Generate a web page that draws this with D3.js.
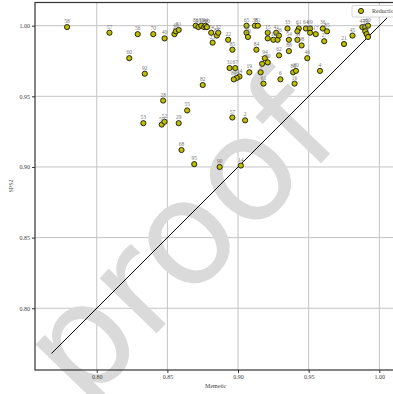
<!DOCTYPE html>
<html>
<head>
<meta charset="utf-8">
<script src="https://cdn.jsdelivr.net/npm/d3@7"></script>
<style>
  html, body { margin: 0; padding: 0; background: #fff; overflow: hidden; }
  svg { display: block; }
</style>
</head>
<body>
<script>
// Per-instance scores: Memetic (x) vs SPS2 (y)
const memetic = [
  0.779, 0.809, 0.829, 0.840, 0.848, 0.855, 0.856, 0.858,
  0.870, 0.872, 0.874, 0.876, 0.877, 0.878,
  0.881, 0.885, 0.886, 0.882, 0.893, 0.896,
  0.906, 0.906, 0.907, 0.912, 0.914, 0.913,
  0.921, 0.921, 0.925, 0.927, 0.928, 0.929, 0.929,
  0.935, 0.936, 0.936, 0.943, 0.942, 0.942, 0.945,
  0.948, 0.951, 0.951, 0.955, 0.960, 0.963, 0.961,
  0.981, 0.975, 0.988, 0.990, 0.992, 0.990, 0.991, 0.992,
  0.823, 0.834, 0.919, 0.921, 0.917, 0.949,
  0.894, 0.898, 0.901, 0.899, 0.897, 0.908, 0.916, 0.918, 0.930,
  0.939, 0.941, 0.940, 0.958, 0.875,
  0.847, 0.864, 0.833, 0.846, 0.848, 0.858, 0.896, 0.905,
  0.860, 0.869, 0.887, 0.902
];
const sps2 = [
  0.999, 0.995, 0.994, 0.994, 0.991, 0.994, 0.996, 0.997,
  1.000, 0.999, 1.000, 0.999, 1.000, 0.999,
  0.995, 0.993, 0.995, 0.988, 0.990, 0.983,
  1.000, 0.995, 0.992, 1.000, 1.000, 0.983,
  0.995, 0.991, 0.990, 0.995, 0.990, 0.993, 0.979,
  0.998, 0.990, 0.982, 0.998, 0.996, 0.990, 0.986,
  0.998, 0.998, 0.995, 0.994, 0.998, 0.996, 0.989,
  0.993, 0.987, 0.999, 0.999, 1.000, 0.996, 0.994, 0.992,
  0.977, 0.966, 0.977, 0.974, 0.973, 0.977,
  0.970, 0.970, 0.964, 0.963, 0.962, 0.967, 0.967, 0.959, 0.962,
  0.967, 0.968, 0.959, 0.968, 0.958,
  0.947, 0.940, 0.931, 0.930, 0.932, 0.931, 0.935, 0.933,
  0.912, 0.902, 0.900, 0.901
];
const ids = [
  58, 57, 56, 70, 40, 4, 48, 51,
  86, 93, 35, 91, 44, 90,
  74, 83, 32, 23, 22, 85,
  65, 10, 20, 38, 81, 84,
  15, 77, 11, 41, 8, 26, 62,
  33, 54, 88, 61, 3, 39, 98,
  64, 69, 89, 17, 36, 85, 27,
  45, 21, 47, 49, 60, 42, 9, 1,
  60, 92, 94, 30, 7, 46,
  31, 67, 14, 24, 89, 19, 5, 61, 6,
  86, 80, 16, 4, 82,
  28, 55, 53, 59, 52, 29, 57, 2,
  68, 95, 90, 14
];
const xTicks = [0.80, 0.85, 0.90, 0.95, 1.00];
const yTicks = [0.80, 0.85, 0.90, 0.95, 1.00];
const diagonal = [0.768, 1.0055];
const seriesName = "Reduction";
const xTitle = "Memetic";
const yTitle = "SPS2";

const W = 393, H = 394;
const svg = d3.select("body").append("svg").attr("width", W).attr("height", H);

const m = { left: 35, right: 402.5, top: 2.5, bottom: 370 };
const x = d3.scaleLinear().domain([0.7563, 1.0164]).range([m.left, m.right]);
const y = d3.scaleLinear().domain([0.7563, 1.0164]).range([m.bottom, m.top]);

const serif = "'Liberation Serif', 'DejaVu Serif', serif";

svg.append("defs").append("clipPath").attr("id", "plot")
  .append("rect").attr("x", m.left).attr("y", m.top)
  .attr("width", m.right - m.left).attr("height", m.bottom - m.top);

// grid
const grid = svg.append("g");
grid.selectAll(".gx").data(xTicks).join("line")
  .attr("x1", d => x(d)).attr("x2", d => x(d))
  .attr("y1", m.top).attr("y2", m.bottom)
  .attr("stroke", "#c4c4c4").attr("stroke-width", 1);
grid.selectAll(".gy").data(yTicks).join("line")
  .attr("y1", d => y(d)).attr("y2", d => y(d))
  .attr("x1", m.left).attr("x2", m.right)
  .attr("stroke", "#c4c4c4").attr("stroke-width", 1);

// watermark, behind the axes and marks
svg.append("text")
  .attr("transform", "translate(186,246) rotate(-46)")
  .attr("text-anchor", "middle").attr("dominant-baseline", "middle")
  .attr("font-family", "'DejaVu Sans', sans-serif")
  .attr("font-size", 145).attr("fill", "#dadada")
  .text("proof");

// axes
const xAxis = svg.append("g").attr("transform", `translate(0,${m.bottom})`)
  .call(d3.axisBottom(x).tickValues(xTicks).tickFormat(d3.format(".2f")).tickSize(3).tickPadding(2));
const yAxis = svg.append("g").attr("transform", `translate(${m.left},0)`)
  .call(d3.axisLeft(y).tickValues(yTicks).tickFormat(d3.format(".2f")).tickSize(3).tickPadding(2));
[xAxis, yAxis].forEach(a => {
  a.select(".domain").remove();
  a.selectAll(".tick line").attr("stroke", "#333").attr("stroke-width", 1);
  a.selectAll(".tick text").attr("font-family", serif).attr("font-size", 6).attr("fill", "#444");
});

// spines
svg.append("rect").attr("x", m.left).attr("y", m.top)
  .attr("width", m.right - m.left).attr("height", m.bottom - m.top)
  .attr("fill", "none").attr("stroke", "#333").attr("stroke-width", 1.2);

const plot = svg.append("g").attr("clip-path", "url(#plot)");

// y = x reference
plot.append("line")
  .attr("x1", x(diagonal[0])).attr("y1", y(diagonal[0]))
  .attr("x2", x(diagonal[1])).attr("y2", y(diagonal[1]))
  .attr("stroke", "#000").attr("stroke-width", 1);

const pts = memetic.map((v, i) => ({ mx: v, sy: sps2[i], id: ids[i] }));

plot.selectAll("circle.pt").data(pts).join("circle")
  .attr("class", "pt")
  .attr("cx", d => x(d.mx)).attr("cy", d => y(d.sy)).attr("r", 2.6)
  .attr("fill", "#bfbf00").attr("stroke", "#000").attr("stroke-width", 0.8);

plot.selectAll("text.lbl").data(pts).join("text")
  .attr("class", "lbl")
  .attr("x", d => x(d.mx)).attr("y", d => y(d.sy) - 4)
  .attr("text-anchor", "middle")
  .attr("font-family", serif).attr("font-size", 5.5).attr("fill", "#777")
  .text(d => d.id);

// axis titles
svg.append("text").attr("x", (m.left + m.right) / 2 - 3).attr("y", 388)
  .attr("text-anchor", "middle").attr("font-family", serif).attr("font-size", 6).attr("fill", "#444")
  .text(xTitle);
svg.append("text").attr("transform", `translate(13,186) rotate(-90)`)
  .attr("text-anchor", "middle").attr("font-family", serif).attr("font-size", 6).attr("fill", "#444")
  .text(yTitle);

// legend
const lg = svg.append("g");
lg.append("rect").attr("x", 352).attr("y", 5.5).attr("width", 70).attr("height", 11.5).attr("rx", 1.5)
  .attr("fill", "#fff").attr("stroke", "#ccc").attr("stroke-width", 0.8);
lg.append("circle").attr("cx", 361).attr("cy", 11).attr("r", 2.6)
  .attr("fill", "#bfbf00").attr("stroke", "#000").attr("stroke-width", 0.8);
lg.append("text").attr("x", 372).attr("y", 13).attr("font-family", serif).attr("font-size", 6).attr("fill", "#444")
  .text(seriesName);
</script>
</body>
</html>
